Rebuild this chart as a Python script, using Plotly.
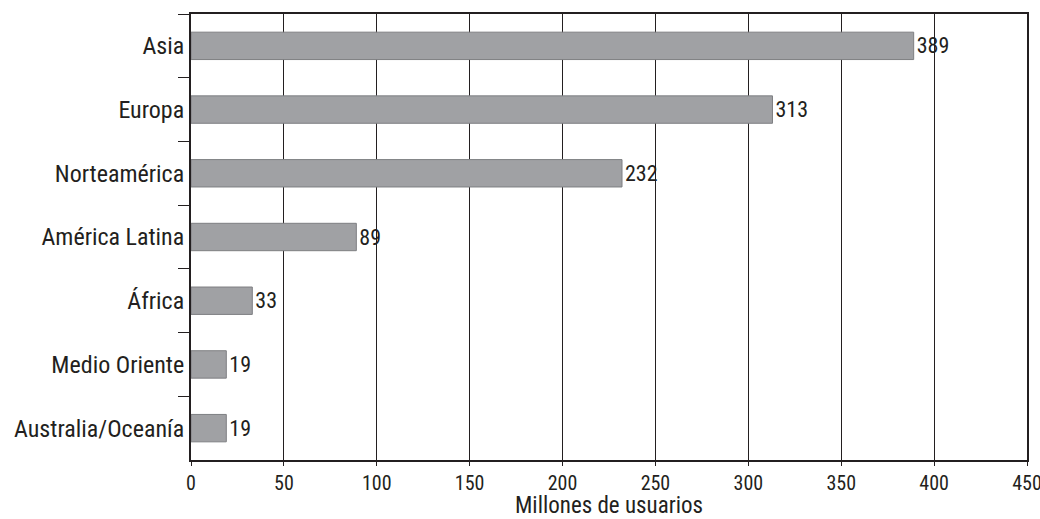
import plotly.graph_objects as go

regions = ["Asia", "Europa", "Norteamérica", "América Latina", "África",
           "Medio Oriente", "Australia/Oceanía"]
users = [389, 313, 232, 89, 33, 19, 19]
x_ticks = [0, 50, 100, 150, 200, 250, 300, 350, 400, 450]

_FONT = "Roboto Condensed, Liberation Sans Narrow, sans-serif"
_INK = "#231f20"

fig = go.Figure(go.Bar(
    x=users, y=regions, orientation="h",
    marker=dict(color="#a0a1a4", line=dict(color="#7e7f82", width=1)),
    width=0.43,
    text=[str(v) for v in users], textposition="outside",
    textfont=dict(family=_FONT, size=22, color=_INK),
    cliponaxis=False, hoverinfo="skip",
))

fig.update_layout(
    width=1040, height=519,
    margin=dict(l=191, r=13, t=14, b=59),
    paper_bgcolor="white", plot_bgcolor="white",
    font=dict(family=_FONT, size=22, color=_INK),
    showlegend=False,
    xaxis=dict(
        range=[0, 450], tickvals=x_ticks, automargin=False,
        ticklabeloverflow="allow",
        showgrid=True, gridcolor=_INK, gridwidth=1, zeroline=False,
        showline=True, linecolor=_INK, linewidth=2, mirror=True,
        ticks="outside", ticklen=4, tickcolor=_INK,
        tickfont=dict(family=_FONT, size=20, color=_INK),
        title=dict(text="Millones de usuarios", standoff=2,
                   font=dict(family=_FONT, size=23, color=_INK)),
    ),
    yaxis=dict(
        autorange="reversed", type="category", automargin=False,
        showline=True, linecolor=_INK, linewidth=2, mirror=True,
        ticks="outside", tickson="boundaries", ticklen=11, tickcolor=_INK,
        tickfont=dict(family=_FONT, size=24, color=_INK),
        showgrid=False, ticklabelstandoff=0,
    ),
)

# drop the default page margin so the 1040x519 figure fills the window exactly
fig.write_html("out.html", config={"displayModeBar": False},
               post_script="document.body.style.margin='0';")
